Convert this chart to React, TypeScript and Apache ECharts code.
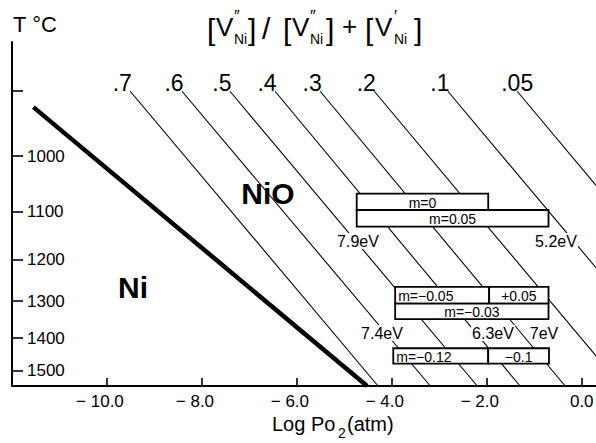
import React, { useEffect, useRef } from 'react';
import * as echarts from 'echarts';

// ---- data ----
const ratioLabels = ['.7', '.6', '.5', '.4', '.3', '.2', '.1', '.05'];
const ratioLineTopX = [-9.51, -8.42, -7.41, -6.46, -5.51, -4.37, -2.82, -1.36];
const ratioLineBottomX = [-4.29, -3.19, -2.2, -1.3, -0.35, 0.83, 2.39, 3.84];
const ratioLineTopT = 900;

const axisTopT = 834;
const axisBottomT = 1551;

const boundaryLogP = [-11.55, -4.52];
const boundaryT = [923, 1551];

const boxLabels = ['m=0', 'm=0.05', 'm=−0.05', '+0.05', 'm=−0.03', 'm=−0.12', '−0.1'];
const boxLogPFrom = [-4.74, -4.74, -3.93, -1.95, -3.93, -3.97, -1.97];
const boxLogPTo = [-1.97, -0.7, -1.95, -0.7, -0.7, -1.97, -0.69];
const boxTFrom = [1066, 1097, 1264, 1264, 1306, 1430, 1430];
const boxTTo = [1097, 1130, 1306, 1306, 1347, 1477, 1477];

const xTicks = [-10, -8, -6, -4, -2, 0];
const tempTicks = [900, 1000, 1100, 1200, 1300, 1400, 1500];
const tempLabels = [1000, 1100, 1200, 1300, 1400, 1500];

const energyLabels = ['7.9eV', '5.2eV', '7.4eV', '6.3eV', '7eV'];

// reciprocal temperature scale: 10^4 / T(K)
const inv = (c: number) => 10000 / (c + 273.15);
const FONT = '"Liberation Sans", Arial, sans-serif';

export default function App() {
  const ref = useRef<HTMLDivElement>(null);
  useEffect(() => {
    if (!ref.current) return;
    const chart = echarts.init(ref.current, null, { renderer: 'svg' });

    const thinSeries = ratioLabels.map((name, i) => ({
      type: 'line',
      name,
      data: [
        [ratioLineTopX[i], inv(ratioLineTopT)],
        [ratioLineBottomX[i], inv(axisBottomT)],
      ],
      symbol: 'none',
      clip: true,
      silent: true,
      z: 2,
      lineStyle: { color: '#000', width: 1.1 },
    }));

    const txt = (text: string, x: number, y: number, size: number, extra: any = {}) => ({
      type: 'text',
      x,
      y,
      z: 10,
      style: {
        text,
        font: `${extra.weight || 'normal'} ${size}px ${FONT}`,
        fill: '#000',
        verticalAlign: 'middle',
        align: extra.align || 'left',
        ...(extra.bg ? { backgroundColor: '#fff', padding: [0, 1] } : {}),
      },
    });

    const graphic = [
      txt('T °C', 13, 24, 22),
      // title [V''Ni]/[V''Ni]+[V'Ni]
      txt('[', 207, 29, 30),
      txt('V', 216, 27, 26),
      txt('″', 234, 16, 16),
      txt('Ni', 234, 39, 14),
      txt(']', 248, 29, 30),
      txt('/', 262, 28, 30),
      txt('[', 283, 29, 30),
      txt('V', 292, 27, 26),
      txt('″', 310, 16, 16),
      txt('Ni', 310, 39, 14),
      txt(']', 326, 29, 30),
      txt('+', 342, 26, 26),
      txt('[', 365, 29, 30),
      txt('V', 375, 27, 26),
      txt('′', 394, 16, 16),
      txt('Ni', 394, 39, 14),
      txt(']', 414, 29, 30),
      // phase labels
      txt('NiO', 268, 193, 30, { align: 'center', weight: 'bold' }),
      txt('Ni', 133, 287, 30, { align: 'center', weight: 'bold' }),
      // energies
      txt(energyLabels[0], 358, 241, 16, { align: 'center', bg: true }),
      txt(energyLabels[1], 556, 241, 16, { align: 'center', bg: true }),
      txt(energyLabels[2], 382, 333, 16, { align: 'center', bg: true }),
      txt(energyLabels[3], 493, 333, 16, { align: 'center', bg: true }),
      txt(energyLabels[4], 544, 333, 16, { align: 'center', bg: true }),
      // x axis name
      txt('Log Po', 272, 424, 20),
      txt('2', 338, 433, 14),
      txt('(atm)', 347, 424, 20),
    ];

    chart.setOption({
      animation: false,
      backgroundColor: '#fff',
      grid: { left: 12, right: 0, top: 42, bottom: 57, containLabel: false, outerBoundsMode: 'none' },
      xAxis: {
        type: 'value',
        min: -12,
        max: 0.3,
        splitLine: { show: false },
        axisLine: { show: true, onZero: false, lineStyle: { color: '#000', width: 2 } },
        axisTick: { show: true, inside: true, length: 8, customValues: xTicks, lineStyle: { color: '#000', width: 1.6 } },
        axisLabel: {
          customValues: xTicks,
          margin: 7,
          color: '#000',
          formatter: (v: number) => (v < 0 ? `{n|− ${Math.abs(v).toFixed(1)}}` : `{z|${v.toFixed(1)}}`),
          rich: {
            n: { padding: [0, 14, 0, 0], fontSize: 17, fontFamily: FONT, color: '#000' },
            z: { fontSize: 17, fontFamily: FONT, color: '#000' },
          },
        },
      },
      yAxis: {
        type: 'value',
        position: 'left',
        min: inv(axisBottomT),
        max: inv(axisTopT),
        splitLine: { show: false },
        axisLine: { show: true, onZero: false, lineStyle: { color: '#000', width: 2 } },
        axisTick: {
          show: true,
          inside: true,
          length: 11,
          customValues: tempTicks.map(inv),
          lineStyle: { color: '#000', width: 1.6 },
        },
        axisLabel: {
          inside: true,
          margin: 15,
          customValues: tempLabels.map(inv),
          formatter: (v: number) => String(Math.round(10000 / v - 273.15)),
          color: '#000',
          fontSize: 17,
          fontFamily: FONT,
        },
      },
      series: [
        ...thinSeries,
        {
          type: 'line',
          name: 'Ni/NiO',
          data: boundaryLogP.map((x, i) => [x, inv(boundaryT[i])]),
          symbol: 'none',
          silent: true,
          z: 3,
          lineStyle: { color: '#000', width: 4.5 },
        },
        {
          type: 'custom',
          name: 'boxes',
          z: 5,
          silent: true,
          data: boxLabels.map((_, i) => [boxLogPFrom[i], boxLogPTo[i], inv(boxTFrom[i]), inv(boxTTo[i])]),
          renderItem: (params: any, api: any) => {
            const i = params.dataIndex;
            const a = api.coord([api.value(0), api.value(2)]);
            const b = api.coord([api.value(1), api.value(3)]);
            const x = Math.min(a[0], b[0]);
            const y = Math.min(a[1], b[1]);
            const w = Math.abs(b[0] - a[0]);
            const h = Math.abs(b[1] - a[1]);
            const leftAligned = i === 2 || i === 5;
            return {
              type: 'group',
              children: [
                {
                  type: 'rect',
                  shape: { x, y, width: w, height: h },
                  style: { fill: '#fff', stroke: '#000', lineWidth: 1.8 },
                },
                {
                  type: 'text',
                  x: leftAligned ? x + 3 : x + w / 2,
                  y: y + h / 2 + 1,
                  style: {
                    text: boxLabels[i],
                    align: leftAligned ? 'left' : 'center',
                    verticalAlign: 'middle',
                    font: `14px ${FONT}`,
                    fill: '#000',
                  },
                },
              ],
            };
          },
        },
        {
          type: 'custom',
          name: 'ratio labels',
          z: 6,
          silent: true,
          data: ratioLineTopX.map((x) => [x, inv(ratioLineTopT)]),
          renderItem: (params: any, api: any) => {
            const p = api.coord([api.value(0), api.value(1)]);
            const lbl = ratioLabels[params.dataIndex];
            return {
              type: 'text',
              x: p[0] + (lbl === '.05' ? 0 : -8),
              y: p[1] + 3,
              style: {
                text: lbl,
                align: 'center',
                verticalAlign: 'bottom',
                font: `23px ${FONT}`,
                fill: '#000',
              },
            };
          },
        },
      ],
      graphic,
    });

    return () => chart.dispose();
  }, []);

  return (
    <div
      ref={ref}
      style={{ position: 'absolute', left: 0, top: 0, width: 596, height: 443, background: '#fff' }}
    />
  );
}
